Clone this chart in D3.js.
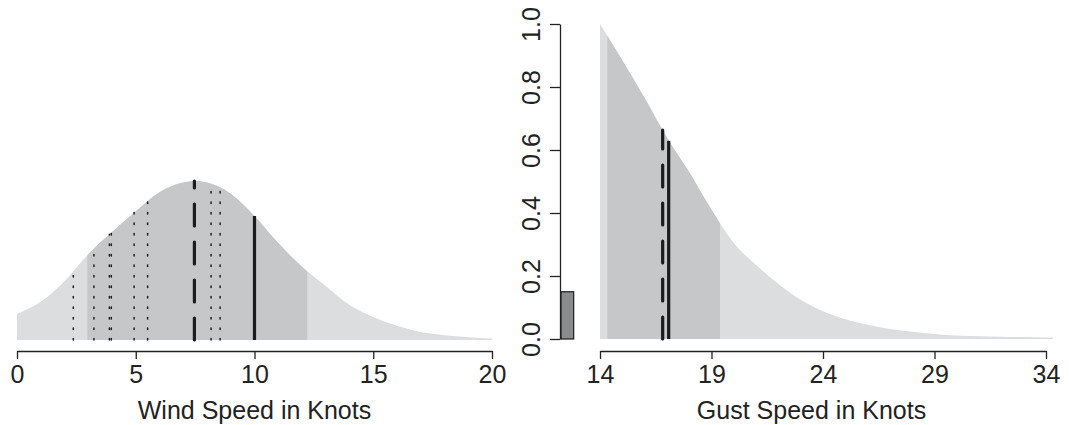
<!DOCTYPE html>
<html>
<head>
<meta charset="utf-8">
<script src="https://cdn.jsdelivr.net/npm/d3@7"></script>
<style>
  body { margin: 0; background: #fff; }
  text { font-family: "Liberation Sans", Arial, sans-serif; fill: #222; }
  .axis path, .axis line { stroke: #222; stroke-width: 1.3; }
</style>
</head>
<body>
<svg class="chart" width="1069" height="425"></svg>
<script>
// WIND PANEL DATA
var windX = [0, 1, 2, 3, 4, 5, 6, 7, 7.5, 8, 9, 10, 11, 12, 13, 14, 15, 16, 17, 18, 19, 20];
var windDensity = [0.164, 0.24, 0.37, 0.54, 0.68, 0.81, 0.93, 0.99, 1.0, 0.99, 0.92, 0.78, 0.61, 0.46, 0.34, 0.22, 0.145, 0.09, 0.05, 0.03, 0.018, 0.01];
var windBand = [2.96, 12.22];
var windTicks = [0, 5, 10, 15, 20];
var windDottedX = [2.37, 3.24, 3.89, 3.97, 4.93, 5.5, 8.17, 8.55];
var windDottedTop = [0.43, 0.575, 0.665, 0.675, 0.81, 0.875, 0.98, 0.955];
var windDashed = {x: 7.47, top: 1.0};
var windSolid = {x: 10.0, top: 0.78};

// GUST PANEL DATA
var gustX = [14, 15, 16, 17, 18, 19, 20, 21, 22, 23, 24, 25, 26, 27, 28, 29, 30, 31, 32, 33, 34, 34.3];
var gustProb = [1.0, 0.885, 0.765, 0.64, 0.53, 0.41, 0.305, 0.235, 0.175, 0.125, 0.088, 0.063, 0.045, 0.032, 0.023, 0.016, 0.011, 0.009, 0.007, 0.006, 0.005, 0.005];
var gustBand = [14.33, 19.38];
var gustTicks = [14, 19, 24, 29, 34];
var gustYTicks = [0, 0.2, 0.4, 0.6, 0.8, 1.0];
var calmBar = {x0: 12.25, x1: 12.82, value: 0.15};
var gustDashed = {x: 16.81, top: 0.663};
var gustSolid = {x: 17.08, top: 0.629};

var LIGHT = "#dcdddf", DARK = "#c6c7c9", INK = "#1c1c1c";
var FONT = "25px";

var svg = d3.select(".chart");
var defs = svg.append("defs");

// SCALES
var xw = d3.scaleLinear().domain([0, 20]).range([17, 492]);
var yw = d3.scaleLinear().domain([0, 1]).range([340, 181]);
var xg = d3.scaleLinear().domain([14, 34]).range([600, 1046]);
var yg = d3.scaleLinear().domain([0, 1]).range([339, 24]);

function drawCurve(id, xs, ys, x, y, band) {
  var pts = xs.map(function(d, i) { return [d, ys[i]]; });
  var area = d3.area()
    .x(function(d) { return x(d[0]); })
    .y0(y(0))
    .y1(function(d) { return y(d[1]); })
    .curve(d3.curveMonotoneX);

  defs.append("clipPath").attr("id", id)
    .append("rect")
      .attr("x", x(band[0]))
      .attr("y", 0)
      .attr("width", x(band[1]) - x(band[0]))
      .attr("height", 425);

  svg.append("path").attr("d", area(pts)).attr("fill", LIGHT);
  svg.append("path").attr("d", area(pts)).attr("fill", DARK)
    .attr("clip-path", "url(#" + id + ")");
}

function vline(x, y, xv, top, width, dash) {
  svg.append("line")
    .attr("x1", x(xv)).attr("x2", x(xv))
    .attr("y1", y(0)).attr("y2", y(top))
    .attr("stroke", INK)
    .attr("stroke-width", width)
    .attr("stroke-dasharray", dash)
    .attr("stroke-linecap", dash ? "round" : "butt");
}

function bottomAxis(x, ticks, title, cx) {
  var g = svg.append("g")
    .attr("class", "axis")
    .attr("transform", "translate(0,351)")
    .call(d3.axisBottom(x).tickValues(ticks).tickSizeInner(8).tickSizeOuter(0).tickFormat(d3.format("d")));
  g.selectAll("text")
    .attr("y", 32).attr("dy", 0)
    .style("font-size", FONT).style("fill", "#222")
    .style("font-family", "'Liberation Sans', Arial, sans-serif");
  svg.append("text")
    .attr("x", cx).attr("y", 419)
    .attr("text-anchor", "middle")
    .style("font-size", FONT)
    .text(title);
}

// LEFT PANEL
drawCurve("windClip", windX, windDensity, xw, yw, windBand);
windDottedX.forEach(function(d, i) { vline(xw, yw, d, windDottedTop[i], 1.5, "1.5,9"); });
vline(xw, yw, windDashed.x, windDashed.top, 3.2, "22,16");
vline(xw, yw, windSolid.x, windSolid.top, 3.2, null);
bottomAxis(xw, windTicks, "Wind Speed in Knots", 254.5);

// RIGHT PANEL
drawCurve("gustClip", gustX, gustProb, xg, yg, gustBand);
svg.append("rect")
  .attr("x", xg(calmBar.x0))
  .attr("y", yg(calmBar.value))
  .attr("width", xg(calmBar.x1) - xg(calmBar.x0))
  .attr("height", yg(0) - yg(calmBar.value))
  .attr("fill", "#8a8b8d")
  .attr("stroke", INK)
  .attr("stroke-width", 1.2);
vline(xg, yg, gustDashed.x, gustDashed.top, 3.2, "22,16");
vline(xg, yg, gustSolid.x, gustSolid.top, 3.2, null);
bottomAxis(xg, gustTicks, "Gust Speed in Knots", 811.5);

// LEFT Y AXIS OF GUST PANEL
var ya = svg.append("g")
  .attr("class", "axis")
  .attr("transform", "translate(560,0)")
  .call(d3.axisLeft(yg).tickValues(gustYTicks).tickSizeInner(10).tickSizeOuter(0).tickFormat(d3.format(".1f")));
ya.selectAll("text")
  .attr("x", 0).attr("dy", 0)
  .attr("text-anchor", "middle")
  .attr("transform", "translate(-20,0) rotate(-90)")
  .style("font-size", FONT).style("fill", "#222")
  .style("font-family", "'Liberation Sans', Arial, sans-serif");
</script>
</body>
</html>
